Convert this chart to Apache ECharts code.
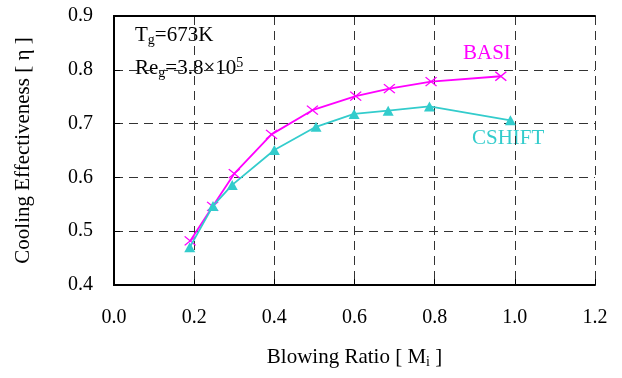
<!DOCTYPE html>
<html>
<head>
<meta charset="utf-8">
<script src="https://cdn.jsdelivr.net/npm/echarts@6/dist/echarts.min.js"></script>
<style>
  html, body { margin: 0; padding: 0; background: #fff; }
  #chart { width: 622px; height: 378px; }
</style>
</head>
<body>
<div id="chart"></div>
<script>
// values
const basiX = [0.19, 0.246, 0.30, 0.393, 0.495, 0.603, 0.687, 0.791, 0.965];
const basiY = [0.482, 0.546, 0.607, 0.680, 0.725, 0.751, 0.765, 0.778, 0.788];
const cshiftX = [0.189, 0.247, 0.295, 0.40, 0.504, 0.599, 0.684, 0.787, 0.989];
const cshiftY = [0.470, 0.547, 0.586, 0.651, 0.694, 0.718, 0.724, 0.732, 0.706];

const FONT = "'Liberation Serif', 'Times New Roman', serif";
const MAGENTA = '#ff00ff';
const TEAL = '#33cccc';

const chart = echarts.init(document.getElementById('chart'));

const pair = (xs, ys) => xs.map((x, i) => [x, ys[i]]);

const frameAxis = {
  axisLine: { show: true, lineStyle: { color: '#000', width: 2 } },
  axisTick: { show: false },
  axisLabel: { show: false },
  splitLine: { show: false }
};

chart.setOption({
  animation: false,
  grid: { left: 114, right: 27, top: 16, bottom: 93 },
  xAxis: [
    {
      type: 'value',
      min: 0, max: 1.2, interval: 0.2,
      name: 'Blowing Ratio [ M{s|i} ]',
      nameLocation: 'middle',
      nameGap: 61,
      nameTextStyle: {
        fontFamily: FONT, fontSize: 21, color: '#000',
        rich: { s: { fontFamily: FONT, fontSize: 14, color: '#000', padding: [9, 0, 0, 0] } }
      },
      axisLine: { lineStyle: { color: '#000', width: 2 } },
      axisTick: { inside: true, length: 6, lineStyle: { color: '#000', width: 1 } },
      axisLabel: {
        margin: 23, fontFamily: FONT, fontSize: 20, color: '#000',
        formatter: v => v.toFixed(1)
      },
      splitLine: { show: true, lineStyle: { color: '#333', width: 1, type: [9, 6] } }
    },
    Object.assign({ type: 'value', min: 0, max: 1.2, position: 'top' }, frameAxis)
  ],
  yAxis: [
    {
      type: 'value',
      min: 0.4, max: 0.9, interval: 0.1,
      name: 'Cooling Effectiveness [ η ]',
      nameLocation: 'middle',
      nameGap: 80,
      nameTextStyle: { fontFamily: FONT, fontSize: 21, color: '#000' },
      axisLine: { lineStyle: { color: '#000', width: 2 } },
      axisTick: { inside: true, length: 6, lineStyle: { color: '#000', width: 1 } },
      axisLabel: {
        margin: 21, fontFamily: FONT, fontSize: 20, color: '#000',
        formatter: v => v.toFixed(1)
      },
      splitLine: { show: true, lineStyle: { color: '#333', width: 1, type: [9, 6] } }
    },
    Object.assign({ type: 'value', min: 0.4, max: 0.9, position: 'right' }, frameAxis)
  ],
  series: [
    {
      name: 'BASI',
      type: 'line',
      data: pair(basiX, basiY),
      symbol: 'path://M0,0L10,8M10,0L0,8',
      symbolSize: [11, 9],
      lineStyle: { color: MAGENTA, width: 1.8 },
      itemStyle: { color: MAGENTA, borderColor: MAGENTA, borderWidth: 1.3 },
      z: 3
    },
    {
      name: 'CSHIFT',
      type: 'line',
      data: pair(cshiftX, cshiftY),
      symbol: 'triangle',
      symbolSize: [11, 10],
      lineStyle: { color: TEAL, width: 1.8 },
      itemStyle: { color: TEAL, borderWidth: 0 },
      z: 4
    }
  ],
  graphic: [
    {
      type: 'text', left: 463, top: 43,
      style: { text: 'BASI', fill: MAGENTA, font: '21px ' + FONT }
    },
    {
      type: 'text', left: 472, top: 128,
      style: { text: 'CSHIFT', fill: TEAL, font: '21px ' + FONT }
    },
    {
      type: 'text', left: 135, top: 25,
      style: {
        text: '{a|T}{s|g}{a|=673K}',
        rich: {
          a: { fontFamily: FONT, fontSize: 21, fill: '#000' },
          s: { fontFamily: FONT, fontSize: 14, fill: '#000', padding: [10, 0, 0, 0] }
        }
      }
    },
    {
      type: 'text', left: 135, top: 56,
      style: {
        text: '{a|Re}{s|g}{a|=3.8×10}{p|5}',
        rich: {
          a: { fontFamily: FONT, fontSize: 21, fill: '#000' },
          s: { fontFamily: FONT, fontSize: 14, fill: '#000', padding: [10, 0, 0, 0] },
          p: { fontFamily: FONT, fontSize: 14, fill: '#000', padding: [0, 0, 10, 0] }
        }
      }
    }
  ]
});
</script>
</body>
</html>
